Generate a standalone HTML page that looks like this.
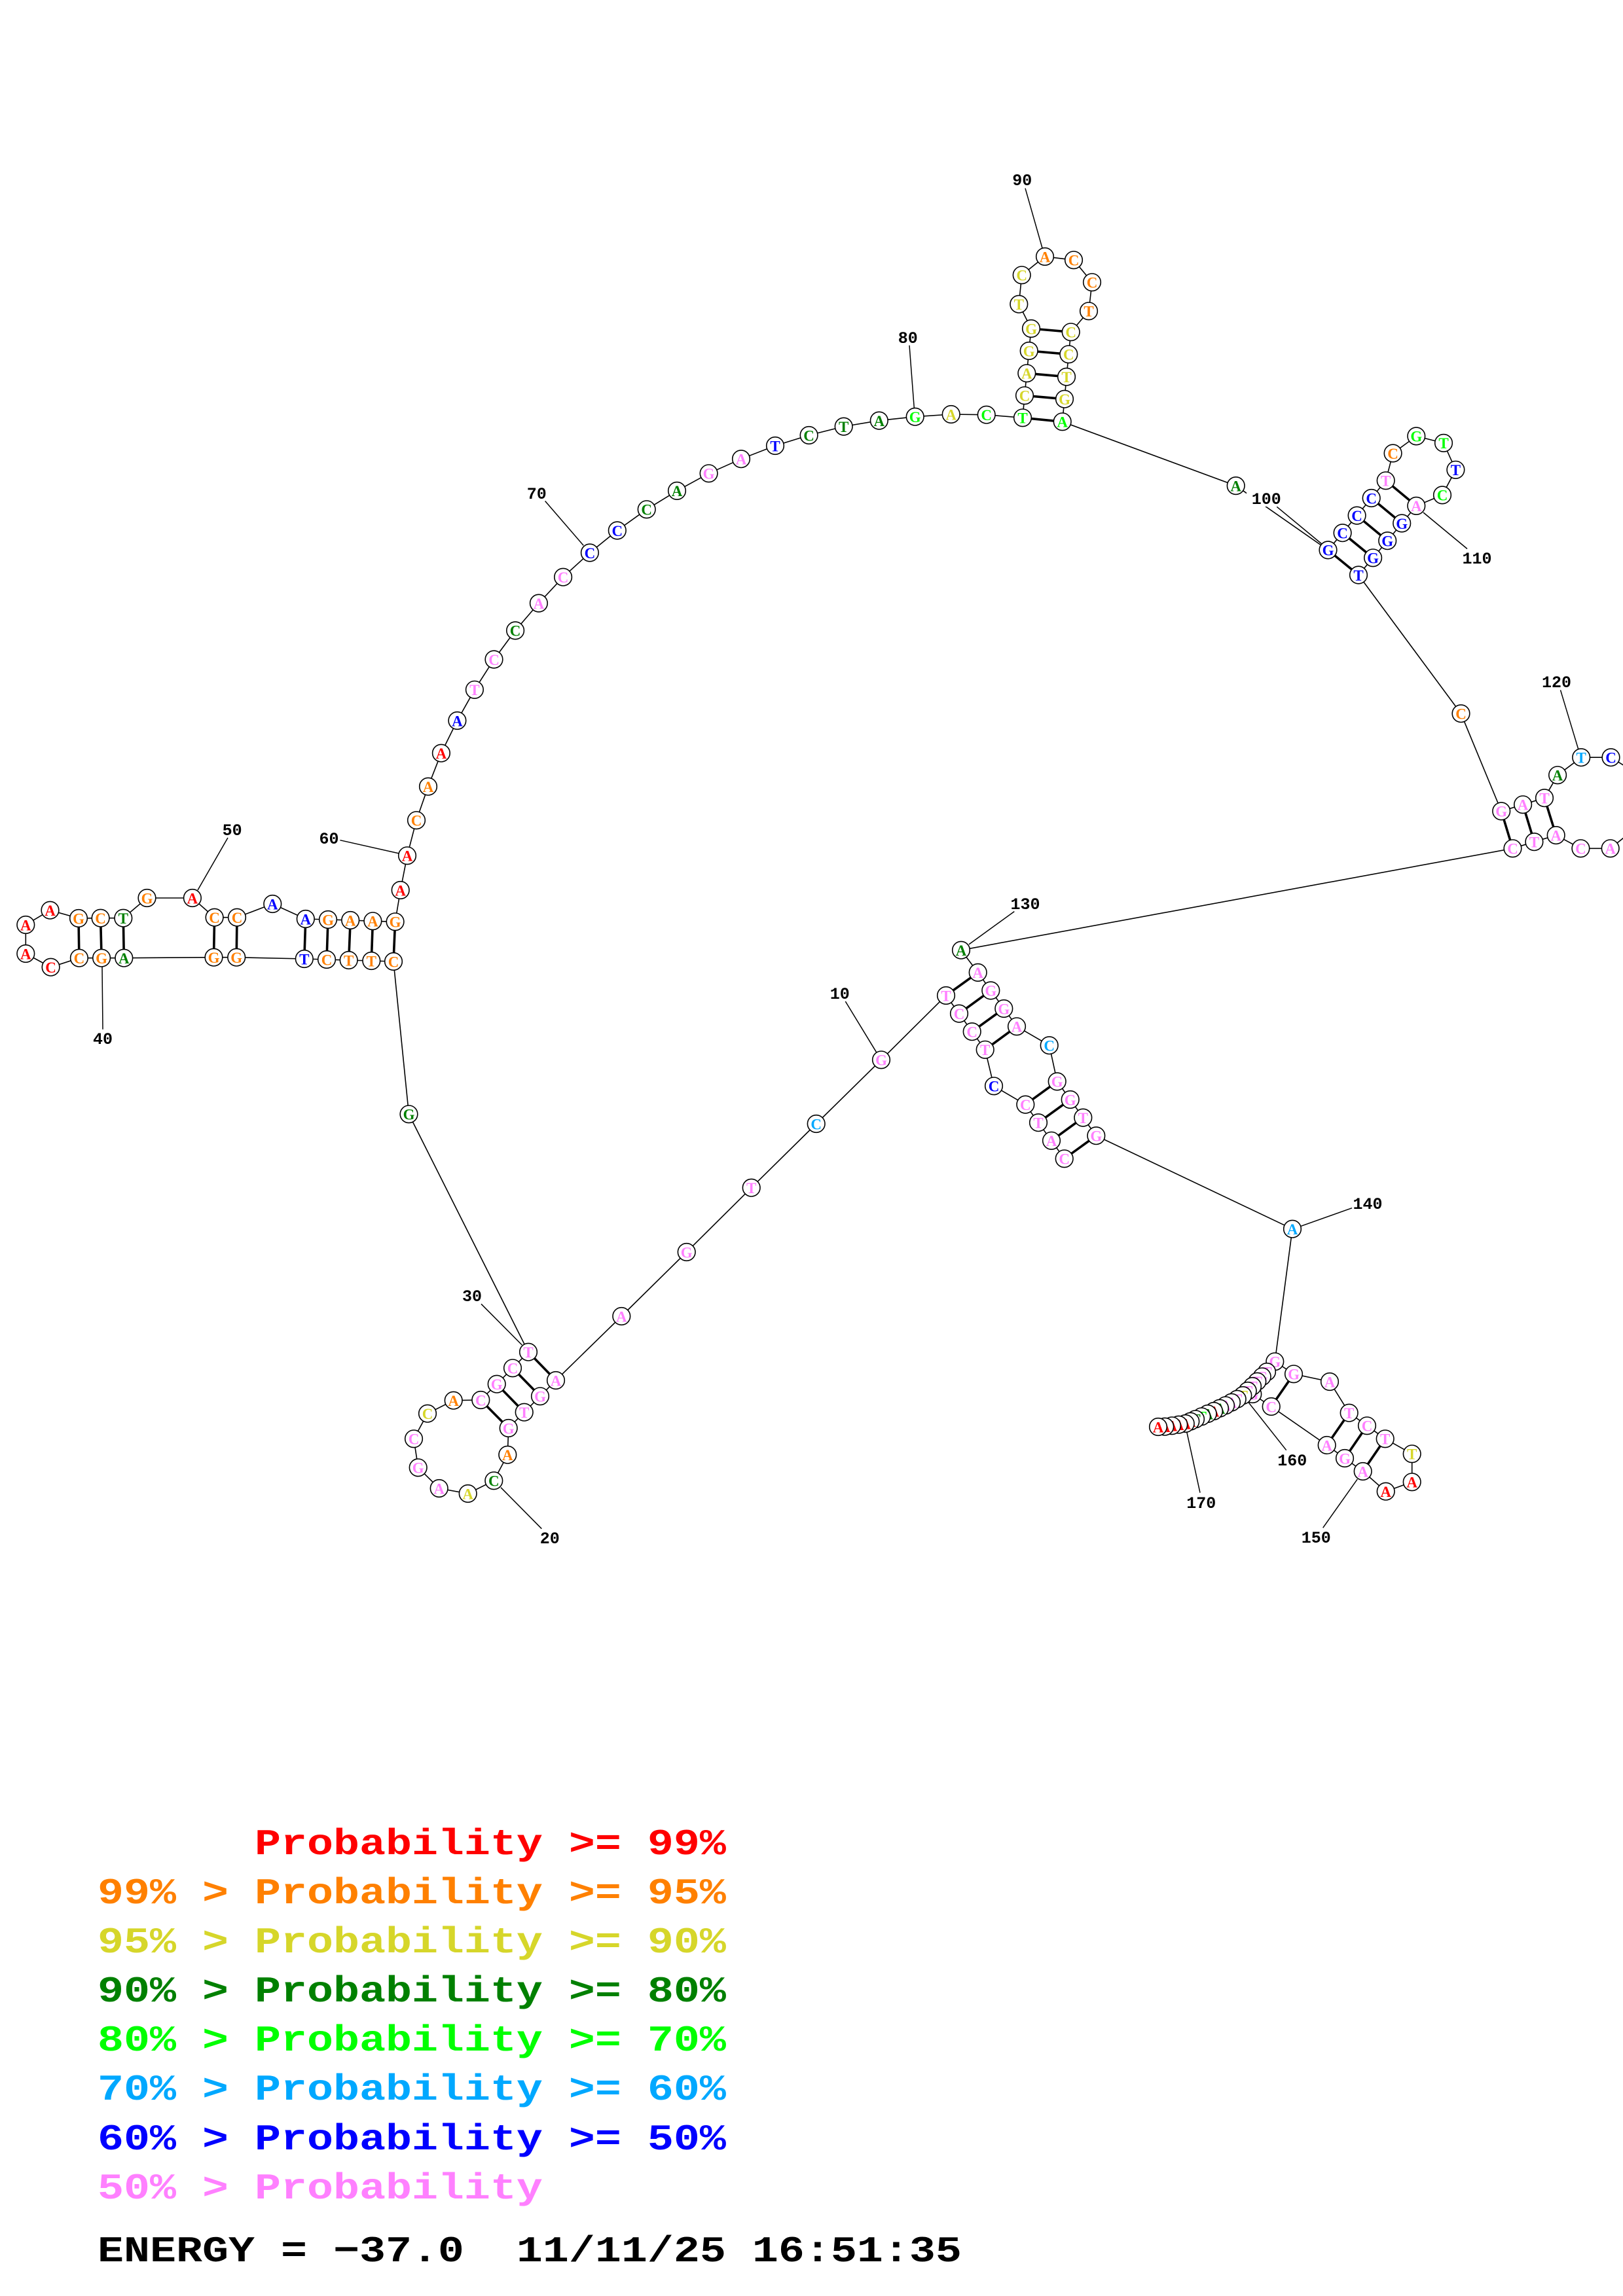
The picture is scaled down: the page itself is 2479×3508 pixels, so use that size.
<!DOCTYPE html>
<html><head><meta charset="utf-8"><title>RNA structure</title>
<style>
html,body{margin:0;padding:0;background:#fff}
svg{display:block}
.bb{fill:none;stroke:#000;stroke-width:1.6}
.pr line{stroke:#000;stroke-width:3.6}
.ld line{stroke:#000;stroke-width:1.5}
.n circle{fill:#fff;stroke:#000;stroke-width:1.6}
.n text{font:bold 23px "Liberation Serif",serif;text-anchor:middle}
.lb{font:bold 25px "Liberation Mono",monospace;text-anchor:middle;fill:#000}
.lg{font:bold 66.67px "Liberation Mono",monospace;white-space:pre}
.r{fill:#ff0000}.o{fill:#ff8000}.y{fill:#d6d62a}.d{fill:#008000}.l{fill:#00ff00}.s{fill:#00a8ff}.b{fill:#0000ff}.p{fill:#ff80ff}.k{fill:#000}
</style></head><body>
<svg xmlns="http://www.w3.org/2000/svg" width="2479" height="3508" viewBox="0 0 2479 3508">
<rect width="2479" height="3508" fill="#fff"/>
<polyline class="bb" points="1625.7,1770.3 1606,1742.8 1586,1715.2 1566.3,1687.6 1518,1659.3 1504.7,1603.8 1484.7,1576.2 1465,1548.6 1445,1521 1346,1619.3 1246.7,1717 1147.7,1814.7 1048.7,1913 949.3,2011 849,2109 825,2133.3 800.7,2157.7 776.7,2182 775.3,2222.7 754.3,2262.3 714.7,2282 670.7,2274 638.7,2242.3 632,2198.3 653,2159.7 692.7,2139.7 734.3,2139 758.7,2114.7 783,2090.3 807,2065.7 624.5,1702.3 601,1469 567.3,1468 532.7,1467 499,1466 464.8,1465 361.2,1462.7 326.5,1462.7 189.3,1463.7 155.1,1463.7 120.9,1463.7 77.6,1477.7 39.3,1457 39.3,1413 76.5,1390.7 120,1403 153.6,1402.7 188.3,1402.7 224.5,1372 293.9,1372 327.6,1401.7 362,1401.7 416.3,1381 466.8,1404 501,1405 535.2,1406 569.4,1407.3 603.6,1408.3 611.7,1360 622,1307.3 636,1253.3 654,1201.7 673.9,1150.7 698.4,1101 724.9,1053.8 754.5,1007.5 787.1,963.4 822.9,921.6 860.1,881.7 900.9,844.5 942.8,810.5 987.7,778.3 1034,749.9 1082.6,723.3 1132,701.2 1184,681 1235.6,665 1288.7,651.6 1342.8,642.6 1397.7,636.7 1452.7,633 1506.7,633.7 1562,638.3 1565,604.3 1568.3,570.3 1571.7,536 1575,502 1556.3,464.7 1560.7,420.3 1596,392 1640,397.3 1668,431.3 1663,475.3 1635.7,507.3 1632.3,541.3 1629,575.7 1626,609.7 1622.7,644.3 1887.7,742.1 2028.5,840.4 2050.6,814.2 2072.6,787.6 2094.7,761 2116.7,734.3 2127.6,692.5 2163.3,666.4 2205,676.9 2223.4,717.8 2203,756.4 2163.3,772.9 2141.2,799.5 2119.2,826.2 2097.1,852.3 2075,878.5 2231.5,1090.2 2293.2,1239.4 2326.1,1229.3 2359,1219.2 2379.1,1184.3 2415.2,1157.2 2460.5,1157.2 2495,1178.6"/>
<polyline class="bb" points="2495,1268 2459.7,1296.3 2414.4,1296.3 2376.7,1276.1 2343.4,1286.2 2310.5,1296.3 1468,1451.7 1493.7,1485.9 1513.3,1513.4 1533.3,1541 1553,1568.3 1602.7,1597.2 1614.7,1652.4 1634.7,1680 1654.3,1707.6 1674.3,1735.2 1974,1877.7 1947.3,2080.3 1976,2099.3 2031,2111 2060.7,2158.7 2088,2178.3 2115.7,2198.3 2156.7,2221.3 2156.7,2264.3 2116.7,2278.7 2081.7,2248 2054,2228 2026.7,2208 1941.7,2149 1913.3,2130 1935,2096 1927.7,2103.3 1920.3,2110.7 1913,2118 1905.7,2125 1898.3,2132 1889.7,2137.7 1881,2142.7 1872,2147.3 1863,2151.7 1854,2156 1844.7,2160 1835.3,2164.3 1826,2168.3 1818.3,2171.7 1810.7,2175 1800.3,2176.7 1790,2178.3 1779.3,2179.7 1769,2180"/>
<rect x="1904" y="748" width="60" height="26" fill="#fff"/>
<g class="pr">
<line x1="1625.7" y1="1770.3" x2="1674.3" y2="1735.2"/><line x1="1606" y1="1742.8" x2="1654.3" y2="1707.6"/><line x1="1586" y1="1715.2" x2="1634.7" y2="1680"/><line x1="1566.3" y1="1687.6" x2="1614.7" y2="1652.4"/>
<line x1="1504.7" y1="1603.8" x2="1553" y2="1568.3"/><line x1="1484.7" y1="1576.2" x2="1533.3" y2="1541"/><line x1="1465" y1="1548.6" x2="1513.3" y2="1513.4"/><line x1="1445" y1="1521" x2="1493.7" y2="1485.9"/>
<line x1="849" y1="2109" x2="807" y2="2065.7"/><line x1="825" y1="2133.3" x2="783" y2="2090.3"/><line x1="800.7" y1="2157.7" x2="758.7" y2="2114.7"/><line x1="776.7" y1="2182" x2="734.3" y2="2139"/>
<line x1="601" y1="1469" x2="603.6" y2="1408.3"/><line x1="567.3" y1="1468" x2="569.4" y2="1407.3"/><line x1="532.7" y1="1467" x2="535.2" y2="1406"/><line x1="499" y1="1466" x2="501" y2="1405"/><line x1="464.8" y1="1465" x2="466.8" y2="1404"/>
<line x1="361.2" y1="1462.7" x2="362" y2="1401.7"/><line x1="326.5" y1="1462.7" x2="327.6" y2="1401.7"/>
<line x1="189.3" y1="1463.7" x2="188.3" y2="1402.7"/><line x1="155.1" y1="1463.7" x2="153.6" y2="1402.7"/><line x1="120.9" y1="1463.7" x2="120" y2="1403"/>
<line x1="1562" y1="638.3" x2="1622.7" y2="644.3"/><line x1="1565" y1="604.3" x2="1626" y2="609.7"/><line x1="1568.3" y1="570.3" x2="1629" y2="575.7"/><line x1="1571.7" y1="536" x2="1632.3" y2="541.3"/><line x1="1575" y1="502" x2="1635.7" y2="507.3"/>
<line x1="2028.5" y1="840.4" x2="2075" y2="878.5"/><line x1="2050.6" y1="814.2" x2="2097.1" y2="852.3"/><line x1="2072.6" y1="787.6" x2="2119.2" y2="826.2"/><line x1="2094.7" y1="761" x2="2141.2" y2="799.5"/><line x1="2116.7" y1="734.3" x2="2163.3" y2="772.9"/>
<line x1="2293.2" y1="1239.4" x2="2310.5" y2="1296.3"/><line x1="2326.1" y1="1229.3" x2="2343.4" y2="1286.2"/><line x1="2359" y1="1219.2" x2="2376.7" y2="1276.1"/>
<line x1="1976" y1="2099.3" x2="1941.7" y2="2149"/><line x1="2060.7" y1="2158.7" x2="2026.7" y2="2208"/><line x1="2088" y1="2178.3" x2="2054" y2="2228"/><line x1="2115.7" y1="2198.3" x2="2081.7" y2="2248"/>
</g>
<g class="ld">
<line x1="1291.3" y1="1530" x2="1339" y2="1608.3"/><line x1="827.3" y1="2335.7" x2="765" y2="2272.7"/><line x1="735" y1="1992.3" x2="797.3" y2="2055"/><line x1="156" y1="1476.7" x2="157" y2="1572.7"/><line x1="348" y1="1280" x2="302" y2="1360"/><line x1="519.4" y1="1283.7" x2="609.7" y2="1304"/><line x1="832.6" y1="765.5" x2="891.2" y2="833.4"/><line x1="1389" y1="527.7" x2="1396.3" y2="623.3"/><line x1="1566" y1="287.7" x2="1592" y2="379"/><line x1="1950.3" y1="774.3" x2="2020" y2="832"/><line x1="2241" y1="838.5" x2="2174" y2="783"/><line x1="2383.5" y1="1054.3" x2="2410.8" y2="1144.8"/><line x1="1549.3" y1="1392.6" x2="1480" y2="1442.9"/><line x1="2065" y1="1845.7" x2="1987.3" y2="1873.3"/><line x1="2020.7" y1="2334.3" x2="2073.3" y2="2260"/><line x1="1964.7" y1="2215.7" x2="1906.7" y2="2142.3"/><line x1="1833" y1="2280.7" x2="1812.7" y2="2187.7"/>
</g>
<g class="n p" transform="translate(1625.7 1770.3)"><circle r="13.3"/><text y="8.3">C</text></g>
<g class="n p" transform="translate(1606 1742.8)"><circle r="13.3"/><text y="8.3">A</text></g>
<g class="n p" transform="translate(1586 1715.2)"><circle r="13.3"/><text y="8.3">T</text></g>
<g class="n p" transform="translate(1566.3 1687.6)"><circle r="13.3"/><text y="8.3">C</text></g>
<g class="n b" transform="translate(1518 1659.3)"><circle r="13.3"/><text y="8.3">C</text></g>
<g class="n p" transform="translate(1504.7 1603.8)"><circle r="13.3"/><text y="8.3">T</text></g>
<g class="n p" transform="translate(1484.7 1576.2)"><circle r="13.3"/><text y="8.3">C</text></g>
<g class="n p" transform="translate(1465 1548.6)"><circle r="13.3"/><text y="8.3">C</text></g>
<g class="n p" transform="translate(1445 1521)"><circle r="13.3"/><text y="8.3">T</text></g>
<g class="n p" transform="translate(1346 1619.3)"><circle r="13.3"/><text y="8.3">G</text></g>
<g class="n s" transform="translate(1246.7 1717)"><circle r="13.3"/><text y="8.3">C</text></g>
<g class="n p" transform="translate(1147.7 1814.7)"><circle r="13.3"/><text y="8.3">T</text></g>
<g class="n p" transform="translate(1048.7 1913)"><circle r="13.3"/><text y="8.3">G</text></g>
<g class="n p" transform="translate(949.3 2011)"><circle r="13.3"/><text y="8.3">A</text></g>
<g class="n p" transform="translate(849 2109)"><circle r="13.3"/><text y="8.3">A</text></g>
<g class="n p" transform="translate(825 2133.3)"><circle r="13.3"/><text y="8.3">G</text></g>
<g class="n p" transform="translate(800.7 2157.7)"><circle r="13.3"/><text y="8.3">T</text></g>
<g class="n p" transform="translate(776.7 2182)"><circle r="13.3"/><text y="8.3">G</text></g>
<g class="n o" transform="translate(775.3 2222.7)"><circle r="13.3"/><text y="8.3">A</text></g>
<g class="n d" transform="translate(754.3 2262.3)"><circle r="13.3"/><text y="8.3">C</text></g>
<g class="n y" transform="translate(714.7 2282)"><circle r="13.3"/><text y="8.3">A</text></g>
<g class="n p" transform="translate(670.7 2274)"><circle r="13.3"/><text y="8.3">A</text></g>
<g class="n p" transform="translate(638.7 2242.3)"><circle r="13.3"/><text y="8.3">G</text></g>
<g class="n p" transform="translate(632 2198.3)"><circle r="13.3"/><text y="8.3">C</text></g>
<g class="n y" transform="translate(653 2159.7)"><circle r="13.3"/><text y="8.3">C</text></g>
<g class="n o" transform="translate(692.7 2139.7)"><circle r="13.3"/><text y="8.3">A</text></g>
<g class="n p" transform="translate(734.3 2139)"><circle r="13.3"/><text y="8.3">C</text></g>
<g class="n p" transform="translate(758.7 2114.7)"><circle r="13.3"/><text y="8.3">G</text></g>
<g class="n p" transform="translate(783 2090.3)"><circle r="13.3"/><text y="8.3">C</text></g>
<g class="n p" transform="translate(807 2065.7)"><circle r="13.3"/><text y="8.3">T</text></g>
<g class="n d" transform="translate(624.5 1702.3)"><circle r="13.3"/><text y="8.3">G</text></g>
<g class="n o" transform="translate(601 1469)"><circle r="13.3"/><text y="8.3">C</text></g>
<g class="n o" transform="translate(567.3 1468)"><circle r="13.3"/><text y="8.3">T</text></g>
<g class="n o" transform="translate(532.7 1467)"><circle r="13.3"/><text y="8.3">T</text></g>
<g class="n o" transform="translate(499 1466)"><circle r="13.3"/><text y="8.3">C</text></g>
<g class="n b" transform="translate(464.8 1465)"><circle r="13.3"/><text y="8.3">T</text></g>
<g class="n o" transform="translate(361.2 1462.7)"><circle r="13.3"/><text y="8.3">G</text></g>
<g class="n o" transform="translate(326.5 1462.7)"><circle r="13.3"/><text y="8.3">G</text></g>
<g class="n d" transform="translate(189.3 1463.7)"><circle r="13.3"/><text y="8.3">A</text></g>
<g class="n o" transform="translate(155.1 1463.7)"><circle r="13.3"/><text y="8.3">G</text></g>
<g class="n o" transform="translate(120.9 1463.7)"><circle r="13.3"/><text y="8.3">C</text></g>
<g class="n r" transform="translate(77.6 1477.7)"><circle r="13.3"/><text y="8.3">C</text></g>
<g class="n r" transform="translate(39.3 1457)"><circle r="13.3"/><text y="8.3">A</text></g>
<g class="n r" transform="translate(39.3 1413)"><circle r="13.3"/><text y="8.3">A</text></g>
<g class="n r" transform="translate(76.5 1390.7)"><circle r="13.3"/><text y="8.3">A</text></g>
<g class="n o" transform="translate(120 1403)"><circle r="13.3"/><text y="8.3">G</text></g>
<g class="n o" transform="translate(153.6 1402.7)"><circle r="13.3"/><text y="8.3">C</text></g>
<g class="n d" transform="translate(188.3 1402.7)"><circle r="13.3"/><text y="8.3">T</text></g>
<g class="n o" transform="translate(224.5 1372)"><circle r="13.3"/><text y="8.3">G</text></g>
<g class="n r" transform="translate(293.9 1372)"><circle r="13.3"/><text y="8.3">A</text></g>
<g class="n o" transform="translate(327.6 1401.7)"><circle r="13.3"/><text y="8.3">C</text></g>
<g class="n o" transform="translate(362 1401.7)"><circle r="13.3"/><text y="8.3">C</text></g>
<g class="n b" transform="translate(416.3 1381)"><circle r="13.3"/><text y="8.3">A</text></g>
<g class="n b" transform="translate(466.8 1404)"><circle r="13.3"/><text y="8.3">A</text></g>
<g class="n o" transform="translate(501 1405)"><circle r="13.3"/><text y="8.3">G</text></g>
<g class="n o" transform="translate(535.2 1406)"><circle r="13.3"/><text y="8.3">A</text></g>
<g class="n o" transform="translate(569.4 1407.3)"><circle r="13.3"/><text y="8.3">A</text></g>
<g class="n o" transform="translate(603.6 1408.3)"><circle r="13.3"/><text y="8.3">G</text></g>
<g class="n r" transform="translate(611.7 1360)"><circle r="13.3"/><text y="8.3">A</text></g>
<g class="n r" transform="translate(622 1307.3)"><circle r="13.3"/><text y="8.3">A</text></g>
<g class="n o" transform="translate(636 1253.3)"><circle r="13.3"/><text y="8.3">C</text></g>
<g class="n o" transform="translate(654 1201.7)"><circle r="13.3"/><text y="8.3">A</text></g>
<g class="n r" transform="translate(673.9 1150.7)"><circle r="13.3"/><text y="8.3">A</text></g>
<g class="n b" transform="translate(698.4 1101)"><circle r="13.3"/><text y="8.3">A</text></g>
<g class="n p" transform="translate(724.9 1053.8)"><circle r="13.3"/><text y="8.3">T</text></g>
<g class="n p" transform="translate(754.5 1007.5)"><circle r="13.3"/><text y="8.3">C</text></g>
<g class="n d" transform="translate(787.1 963.4)"><circle r="13.3"/><text y="8.3">C</text></g>
<g class="n p" transform="translate(822.9 921.6)"><circle r="13.3"/><text y="8.3">A</text></g>
<g class="n p" transform="translate(860.1 881.7)"><circle r="13.3"/><text y="8.3">C</text></g>
<g class="n b" transform="translate(900.9 844.5)"><circle r="13.3"/><text y="8.3">C</text></g>
<g class="n b" transform="translate(942.8 810.5)"><circle r="13.3"/><text y="8.3">C</text></g>
<g class="n d" transform="translate(987.7 778.3)"><circle r="13.3"/><text y="8.3">C</text></g>
<g class="n d" transform="translate(1034 749.9)"><circle r="13.3"/><text y="8.3">A</text></g>
<g class="n p" transform="translate(1082.6 723.3)"><circle r="13.3"/><text y="8.3">G</text></g>
<g class="n p" transform="translate(1132 701.2)"><circle r="13.3"/><text y="8.3">A</text></g>
<g class="n b" transform="translate(1184 681)"><circle r="13.3"/><text y="8.3">T</text></g>
<g class="n d" transform="translate(1235.6 665)"><circle r="13.3"/><text y="8.3">C</text></g>
<g class="n d" transform="translate(1288.7 651.6)"><circle r="13.3"/><text y="8.3">T</text></g>
<g class="n d" transform="translate(1342.8 642.6)"><circle r="13.3"/><text y="8.3">A</text></g>
<g class="n l" transform="translate(1397.7 636.7)"><circle r="13.3"/><text y="8.3">G</text></g>
<g class="n y" transform="translate(1452.7 633)"><circle r="13.3"/><text y="8.3">A</text></g>
<g class="n l" transform="translate(1506.7 633.7)"><circle r="13.3"/><text y="8.3">C</text></g>
<g class="n l" transform="translate(1562 638.3)"><circle r="13.3"/><text y="8.3">T</text></g>
<g class="n y" transform="translate(1565 604.3)"><circle r="13.3"/><text y="8.3">C</text></g>
<g class="n y" transform="translate(1568.3 570.3)"><circle r="13.3"/><text y="8.3">A</text></g>
<g class="n y" transform="translate(1571.7 536)"><circle r="13.3"/><text y="8.3">G</text></g>
<g class="n y" transform="translate(1575 502)"><circle r="13.3"/><text y="8.3">G</text></g>
<g class="n y" transform="translate(1556.3 464.7)"><circle r="13.3"/><text y="8.3">T</text></g>
<g class="n y" transform="translate(1560.7 420.3)"><circle r="13.3"/><text y="8.3">C</text></g>
<g class="n o" transform="translate(1596 392)"><circle r="13.3"/><text y="8.3">A</text></g>
<g class="n o" transform="translate(1640 397.3)"><circle r="13.3"/><text y="8.3">C</text></g>
<g class="n o" transform="translate(1668 431.3)"><circle r="13.3"/><text y="8.3">C</text></g>
<g class="n o" transform="translate(1663 475.3)"><circle r="13.3"/><text y="8.3">T</text></g>
<g class="n y" transform="translate(1635.7 507.3)"><circle r="13.3"/><text y="8.3">C</text></g>
<g class="n y" transform="translate(1632.3 541.3)"><circle r="13.3"/><text y="8.3">C</text></g>
<g class="n y" transform="translate(1629 575.7)"><circle r="13.3"/><text y="8.3">T</text></g>
<g class="n y" transform="translate(1626 609.7)"><circle r="13.3"/><text y="8.3">G</text></g>
<g class="n l" transform="translate(1622.7 644.3)"><circle r="13.3"/><text y="8.3">A</text></g>
<g class="n d" transform="translate(1887.7 742.1)"><circle r="13.3"/><text y="8.3">A</text></g>
<g class="n b" transform="translate(2028.5 840.4)"><circle r="13.3"/><text y="8.3">G</text></g>
<g class="n b" transform="translate(2050.6 814.2)"><circle r="13.3"/><text y="8.3">C</text></g>
<g class="n b" transform="translate(2072.6 787.6)"><circle r="13.3"/><text y="8.3">C</text></g>
<g class="n b" transform="translate(2094.7 761)"><circle r="13.3"/><text y="8.3">C</text></g>
<g class="n p" transform="translate(2116.7 734.3)"><circle r="13.3"/><text y="8.3">T</text></g>
<g class="n o" transform="translate(2127.6 692.5)"><circle r="13.3"/><text y="8.3">C</text></g>
<g class="n l" transform="translate(2163.3 666.4)"><circle r="13.3"/><text y="8.3">G</text></g>
<g class="n l" transform="translate(2205 676.9)"><circle r="13.3"/><text y="8.3">T</text></g>
<g class="n b" transform="translate(2223.4 717.8)"><circle r="13.3"/><text y="8.3">T</text></g>
<g class="n l" transform="translate(2203 756.4)"><circle r="13.3"/><text y="8.3">C</text></g>
<g class="n p" transform="translate(2163.3 772.9)"><circle r="13.3"/><text y="8.3">A</text></g>
<g class="n b" transform="translate(2141.2 799.5)"><circle r="13.3"/><text y="8.3">G</text></g>
<g class="n b" transform="translate(2119.2 826.2)"><circle r="13.3"/><text y="8.3">G</text></g>
<g class="n b" transform="translate(2097.1 852.3)"><circle r="13.3"/><text y="8.3">G</text></g>
<g class="n b" transform="translate(2075 878.5)"><circle r="13.3"/><text y="8.3">T</text></g>
<g class="n o" transform="translate(2231.5 1090.2)"><circle r="13.3"/><text y="8.3">C</text></g>
<g class="n p" transform="translate(2293.2 1239.4)"><circle r="13.3"/><text y="8.3">G</text></g>
<g class="n p" transform="translate(2326.1 1229.3)"><circle r="13.3"/><text y="8.3">A</text></g>
<g class="n p" transform="translate(2359 1219.2)"><circle r="13.3"/><text y="8.3">T</text></g>
<g class="n d" transform="translate(2379.1 1184.3)"><circle r="13.3"/><text y="8.3">A</text></g>
<g class="n s" transform="translate(2415.2 1157.2)"><circle r="13.3"/><text y="8.3">T</text></g>
<g class="n b" transform="translate(2460.5 1157.2)"><circle r="13.3"/><text y="8.3">C</text></g>
<g class="n p" transform="translate(2459.7 1296.3)"><circle r="13.3"/><text y="8.3">A</text></g>
<g class="n p" transform="translate(2414.4 1296.3)"><circle r="13.3"/><text y="8.3">C</text></g>
<g class="n p" transform="translate(2376.7 1276.1)"><circle r="13.3"/><text y="8.3">A</text></g>
<g class="n p" transform="translate(2343.4 1286.2)"><circle r="13.3"/><text y="8.3">T</text></g>
<g class="n p" transform="translate(2310.5 1296.3)"><circle r="13.3"/><text y="8.3">C</text></g>
<g class="n d" transform="translate(1468 1451.7)"><circle r="13.3"/><text y="8.3">A</text></g>
<g class="n p" transform="translate(1493.7 1485.9)"><circle r="13.3"/><text y="8.3">A</text></g>
<g class="n p" transform="translate(1513.3 1513.4)"><circle r="13.3"/><text y="8.3">G</text></g>
<g class="n p" transform="translate(1533.3 1541)"><circle r="13.3"/><text y="8.3">G</text></g>
<g class="n p" transform="translate(1553 1568.3)"><circle r="13.3"/><text y="8.3">A</text></g>
<g class="n s" transform="translate(1602.7 1597.2)"><circle r="13.3"/><text y="8.3">C</text></g>
<g class="n p" transform="translate(1614.7 1652.4)"><circle r="13.3"/><text y="8.3">G</text></g>
<g class="n p" transform="translate(1634.7 1680)"><circle r="13.3"/><text y="8.3">G</text></g>
<g class="n p" transform="translate(1654.3 1707.6)"><circle r="13.3"/><text y="8.3">T</text></g>
<g class="n p" transform="translate(1674.3 1735.2)"><circle r="13.3"/><text y="8.3">G</text></g>
<g class="n s" transform="translate(1974 1877.7)"><circle r="13.3"/><text y="8.3">A</text></g>
<g class="n p" transform="translate(1947.3 2080.3)"><circle r="13.3"/><text y="8.3">G</text></g>
<g class="n p" transform="translate(1976 2099.3)"><circle r="13.3"/><text y="8.3">G</text></g>
<g class="n p" transform="translate(2031 2111)"><circle r="13.3"/><text y="8.3">A</text></g>
<g class="n p" transform="translate(2060.7 2158.7)"><circle r="13.3"/><text y="8.3">T</text></g>
<g class="n p" transform="translate(2088 2178.3)"><circle r="13.3"/><text y="8.3">C</text></g>
<g class="n p" transform="translate(2115.7 2198.3)"><circle r="13.3"/><text y="8.3">T</text></g>
<g class="n y" transform="translate(2156.7 2221.3)"><circle r="13.3"/><text y="8.3">T</text></g>
<g class="n r" transform="translate(2156.7 2264.3)"><circle r="13.3"/><text y="8.3">A</text></g>
<g class="n r" transform="translate(2116.7 2278.7)"><circle r="13.3"/><text y="8.3">A</text></g>
<g class="n p" transform="translate(2081.7 2248)"><circle r="13.3"/><text y="8.3">A</text></g>
<g class="n p" transform="translate(2054 2228)"><circle r="13.3"/><text y="8.3">G</text></g>
<g class="n p" transform="translate(2026.7 2208)"><circle r="13.3"/><text y="8.3">A</text></g>
<g class="n p" transform="translate(1941.7 2149)"><circle r="13.3"/><text y="8.3">C</text></g>
<g class="n p" transform="translate(1913.3 2130)"><circle r="13.3"/><text y="8.3">G</text></g>
<g class="n p" transform="translate(1935 2096)"><circle r="13.3"/><text y="8.3">T</text></g>
<g class="n p" transform="translate(1927.7 2103.3)"><circle r="13.3"/><text y="8.3">G</text></g>
<g class="n p" transform="translate(1920.3 2110.7)"><circle r="13.3"/><text y="8.3">T</text></g>
<g class="n p" transform="translate(1913 2118)"><circle r="13.3"/><text y="8.3">T</text></g>
<g class="n p" transform="translate(1905.7 2125)"><circle r="13.3"/><text y="8.3">T</text></g>
<g class="n y" transform="translate(1898.3 2132)"><circle r="13.3"/><text y="8.3">T</text></g>
<g class="n p" transform="translate(1889.7 2137.7)"><circle r="13.3"/><text y="8.3">T</text></g>
<g class="n p" transform="translate(1881 2142.7)"><circle r="13.3"/><text y="8.3">A</text></g>
<g class="n p" transform="translate(1872 2147.3)"><circle r="13.3"/><text y="8.3">A</text></g>
<g class="n d" transform="translate(1863 2151.7)"><circle r="13.3"/><text y="8.3">A</text></g>
<g class="n r" transform="translate(1854 2156)"><circle r="13.3"/><text y="8.3">A</text></g>
<g class="n d" transform="translate(1844.7 2160)"><circle r="13.3"/><text y="8.3">A</text></g>
<g class="n l" transform="translate(1835.3 2164.3)"><circle r="13.3"/><text y="8.3">T</text></g>
<g class="n d" transform="translate(1826 2168.3)"><circle r="13.3"/><text y="8.3">T</text></g>
<g class="n r" transform="translate(1818.3 2171.7)"><circle r="13.3"/><text y="8.3">A</text></g>
<g class="n r" transform="translate(1810.7 2175)"><circle r="13.3"/><text y="8.3">A</text></g>
<g class="n r" transform="translate(1800.3 2176.7)"><circle r="13.3"/><text y="8.3">A</text></g>
<g class="n r" transform="translate(1790 2178.3)"><circle r="13.3"/><text y="8.3">A</text></g>
<g class="n r" transform="translate(1779.3 2179.7)"><circle r="13.3"/><text y="8.3">A</text></g>
<g class="n r" transform="translate(1769 2180)"><circle r="13.3"/><text y="8.3">A</text></g>
<text class="lb" x="1282.7" y="1526">10</text>
<text class="lb" x="839.7" y="2358">20</text>
<text class="lb" x="721" y="1988">30</text>
<text class="lb" x="157" y="1595">40</text>
<text class="lb" x="354.6" y="1276">50</text>
<text class="lb" x="502.5" y="1289">60</text>
<text class="lb" x="819.8" y="762">70</text>
<text class="lb" x="1386.7" y="524">80</text>
<text class="lb" x="1561.3" y="283">90</text>
<text class="lb" x="1934.2" y="770">100</text>
<text class="lb" x="2256" y="861">110</text>
<text class="lb" x="2377.5" y="1050">120</text>
<text class="lb" x="1566" y="1389">130</text>
<text class="lb" x="2089" y="1847">140</text>
<text class="lb" x="2010.3" y="2357">150</text>
<text class="lb" x="1973.7" y="2239">160</text>
<text class="lb" x="1834.7" y="2304">170</text>
<text class="lg r" transform="translate(149 2833) scale(1 .84)">      Probability &gt;= 99%</text>
<text class="lg o" transform="translate(149 2908) scale(1 .84)">99% &gt; Probability &gt;= 95%</text>
<text class="lg y" transform="translate(149 2983) scale(1 .84)">95% &gt; Probability &gt;= 90%</text>
<text class="lg d" transform="translate(149 3058) scale(1 .84)">90% &gt; Probability &gt;= 80%</text>
<text class="lg l" transform="translate(149 3133) scale(1 .84)">80% &gt; Probability &gt;= 70%</text>
<text class="lg s" transform="translate(149 3208) scale(1 .84)">70% &gt; Probability &gt;= 60%</text>
<text class="lg b" transform="translate(149 3284) scale(1 .84)">60% &gt; Probability &gt;= 50%</text>
<text class="lg p" transform="translate(149 3359) scale(1 .84)">50% &gt; Probability</text>
<text class="lg k" transform="translate(149 3455) scale(1 .84)">ENERGY = −37.0  11/11/25 16:51:35</text>
</svg>
</body></html>
